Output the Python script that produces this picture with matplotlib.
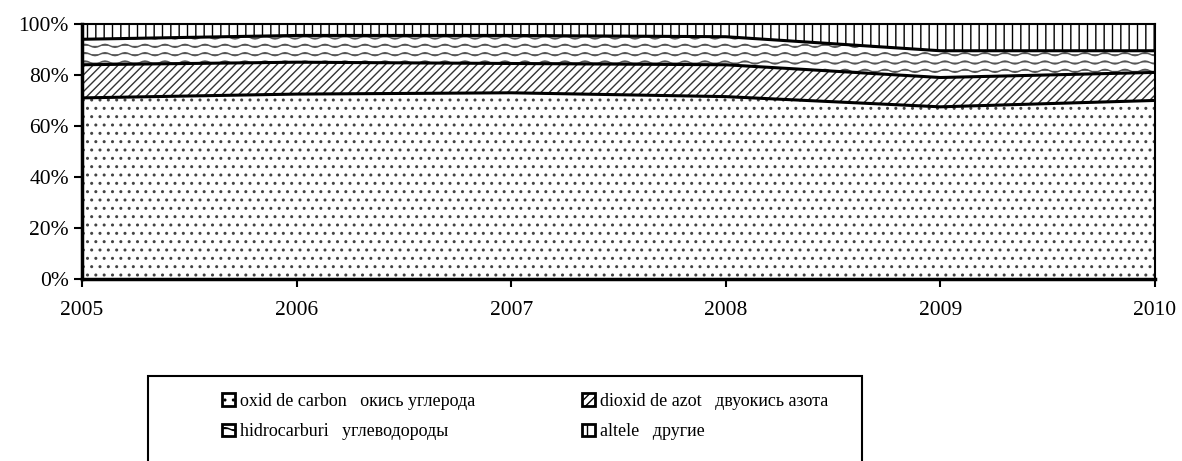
import numpy as np
import matplotlib
matplotlib.use("Agg")
import matplotlib.pyplot as plt
import matplotlib.hatch as mhatch
from matplotlib.path import Path
from matplotlib.patches import Rectangle

plt.rcParams['font.family'] = ['Liberation Serif', 'DejaVu Serif']
plt.rcParams['hatch.linewidth'] = 1.0

years = [2005, 2006, 2007, 2008, 2009, 2010]
oxid = [71, 72.5, 73, 71.5, 67.5, 70]
dioxid = [13, 12.5, 11.5, 12.5, 11.5, 11]
hidro = [10, 10.5, 11, 11, 10.5, 8.5]
altele = [6, 4.5, 4.5, 5, 10.5, 10.5]

labels = ["oxid de carbon   окись углерода",
          "dioxid de azot   двуокись азота",
          "hidrocarburi   углеводороды",
          "altele   другие"]
hatches = ['..', '////', '--', '||']
hatch_colors = ['#444444', '#333333', '#555555', 'black']
yticks = [0, 20, 40, 60, 80, 100]


# wavy lines instead of plain horizontal ones for the '-' hatch
class WavyHatch(mhatch.HatchPatternBase):
    def __init__(self, hatch, density):
        self.num_lines = int((hatch.count('-') + hatch.count('+')) * density)
        self.seg = 40
        self.num_vertices = self.num_lines * (self.seg + 1)

    def set_vertices_and_codes(self, vertices, codes):
        steps, stepsize = np.linspace(0.0, 1.0, self.num_lines, False, retstep=True)
        steps += stepsize / 2.
        x = np.linspace(0.0, 1.0, self.seg + 1)
        n = self.seg + 1
        for i, s in enumerate(steps):
            vertices[i*n:(i+1)*n, 0] = x
            vertices[i*n:(i+1)*n, 1] = s + 0.015 * np.sin(2 * np.pi * 5 * x)
            codes[i*n:(i+1)*n] = Path.LINETO
            codes[i*n] = Path.MOVETO


mhatch._hatch_types[mhatch._hatch_types.index(mhatch.HorizontalHatch)] = WavyHatch

fig = plt.figure(figsize=(11.82, 4.61), dpi=100)
ax = fig.add_axes([0.0694, 0.395, 0.9076, 0.553])

polys = ax.stackplot(years, oxid, dioxid, hidro, altele,
                     colors=['white'] * 4, linewidth=0)
for p, h, c in zip(polys, hatches, hatch_colors):
    p.set_hatch(h)
    p.set_edgecolor(c)

# boundaries between the layers
tops = np.cumsum([oxid, dioxid, hidro], axis=0)
for t in tops:
    ax.plot(years, t, color='black', linewidth=2.2)

ax.set_xlim(2005, 2010)
ax.set_ylim(0, 100)
ax.set_xticks(years)
ax.set_yticks(yticks)
ax.set_yticklabels([f"{v}%" for v in yticks])
ax.tick_params(axis='both', labelsize=15.5, direction='out', length=6, width=1.5)
ax.tick_params(axis='x', pad=10)
for s in ax.spines.values():
    s.set_linewidth(1.5)
ax.spines['left'].set_linewidth(2.5)
ax.spines['bottom'].set_linewidth(2.5)

# legend frame, running off the bottom of the figure
fig.add_artist(Rectangle((148 / 1182, -0.1), 714 / 1182, 0.1 + 1 - 376 / 461,
                         transform=fig.transFigure, fill=False,
                         edgecolor='black', linewidth=1.5))

leg_kw = dict(loc='center left', fontsize=13, frameon=False,
              handlelength=0.7, handleheight=0.7, handletextpad=0.3,
              borderpad=0, labelspacing=0.75, borderaxespad=0)
leg1 = fig.legend([polys[0], polys[2]], [labels[0], labels[2]],
                  bbox_to_anchor=(222 / 1182, 1 - 416.5 / 461), **leg_kw)
leg2 = fig.legend([polys[1], polys[3]], [labels[1], labels[3]],
                  bbox_to_anchor=(582 / 1182, 1 - 416.5 / 461), **leg_kw)
for leg in (leg1, leg2):
    for h in leg.legend_handles:
        h.set_linewidth(2)
        h.set_edgecolor('black')

fig.savefig("out.png", dpi=100)
